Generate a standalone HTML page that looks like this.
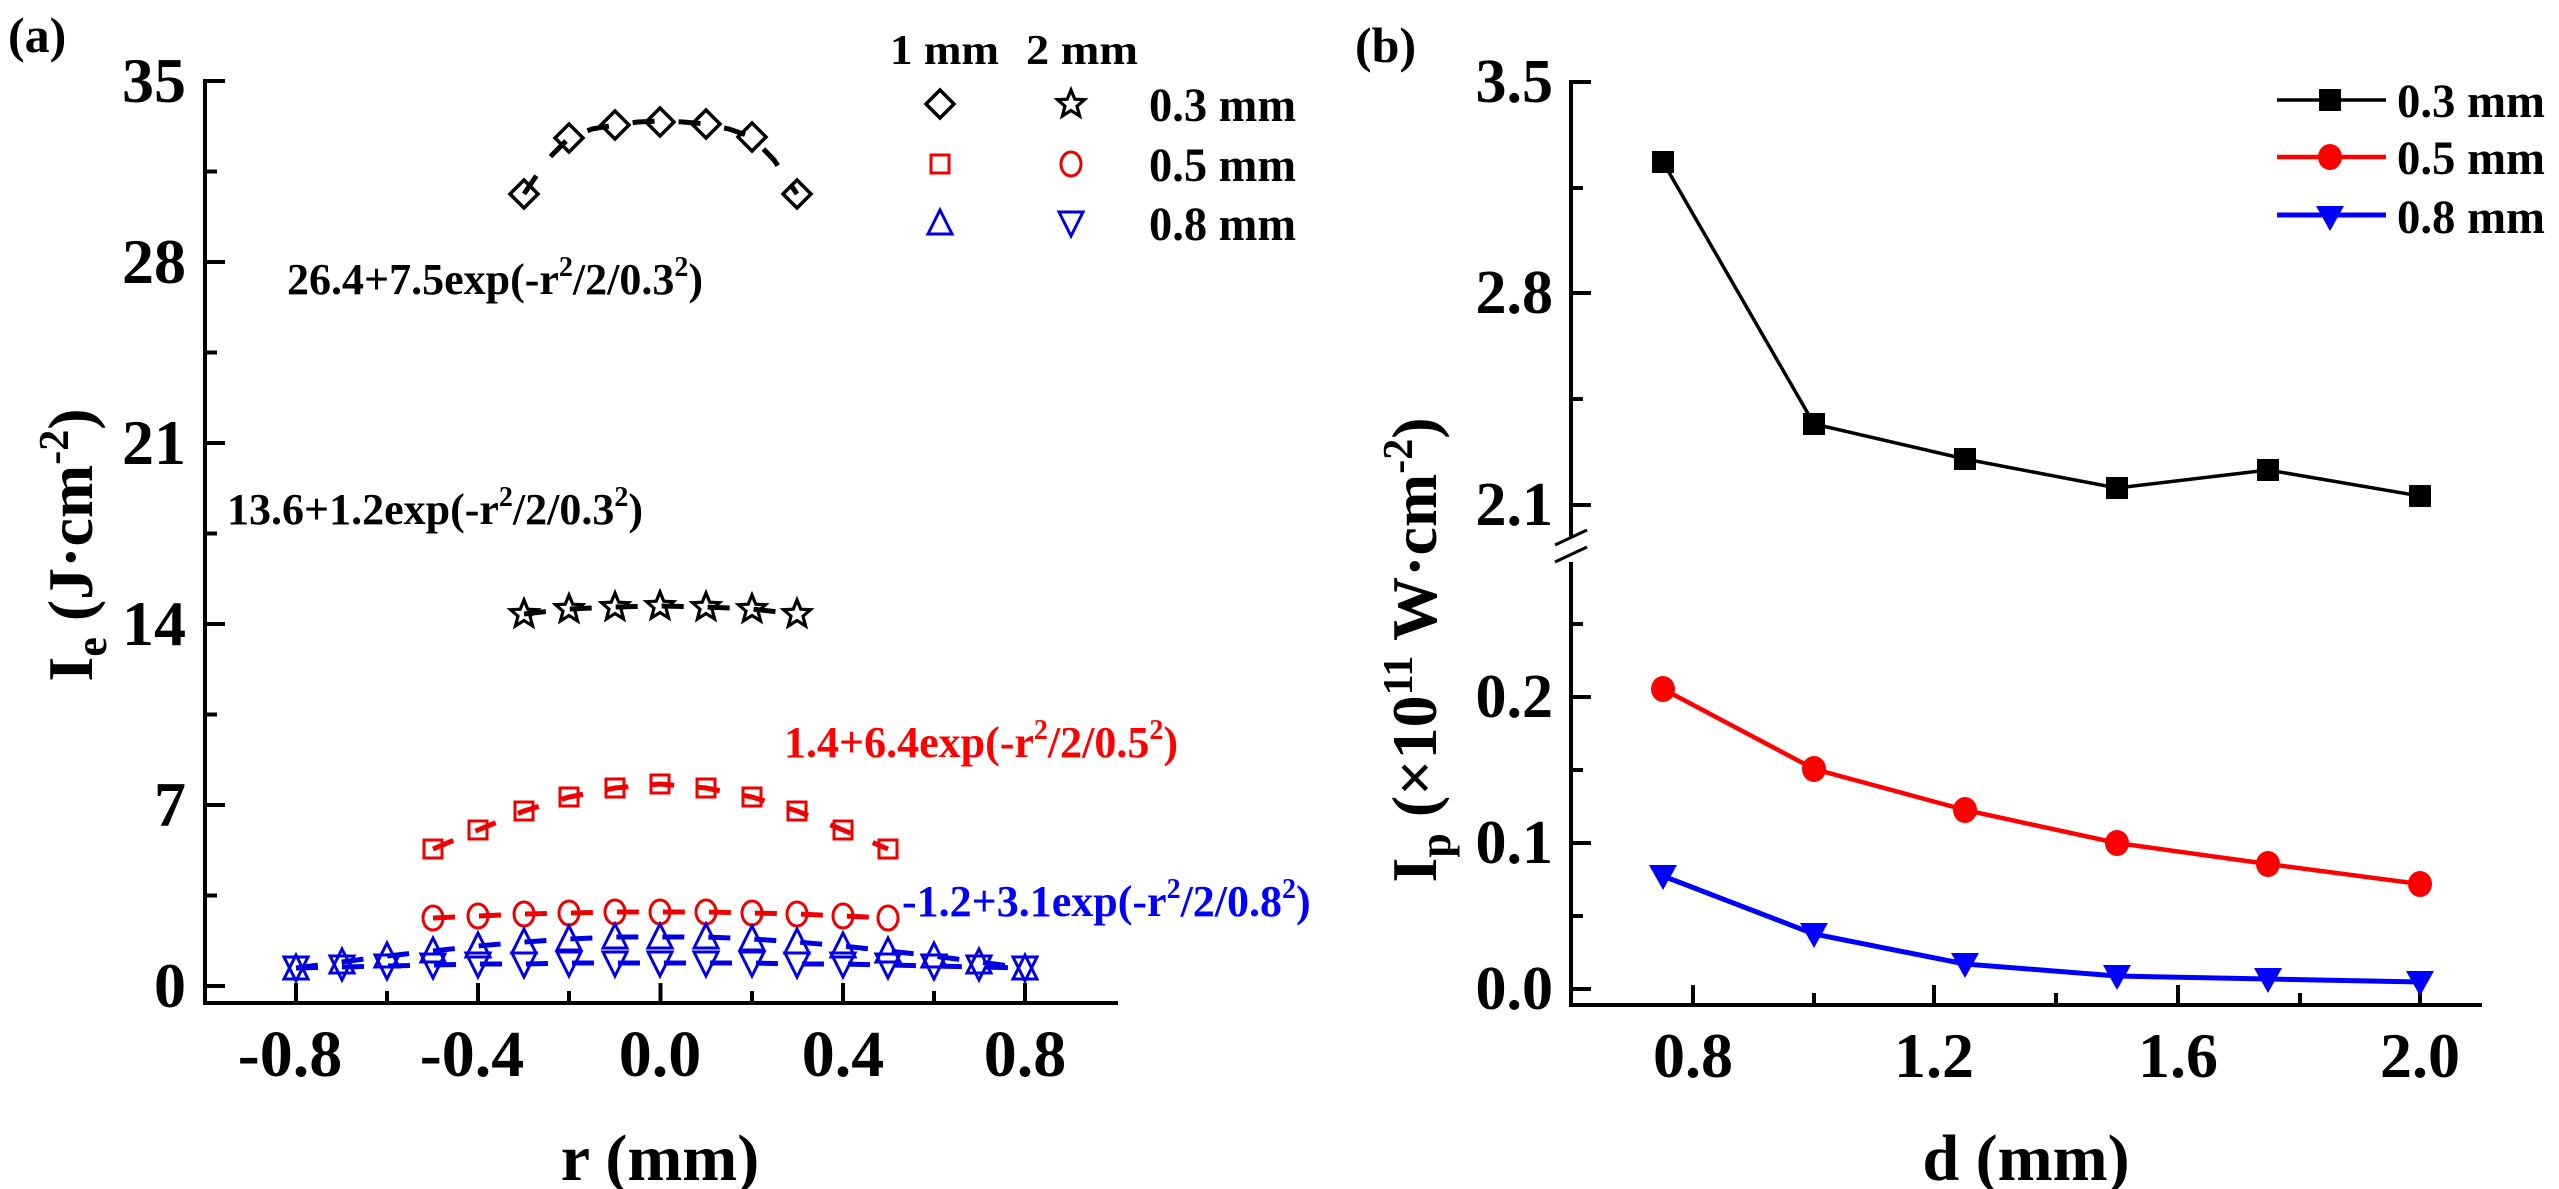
<!DOCTYPE html>
<html><head><meta charset="utf-8"><style>html,body{margin:0;padding:0;background:#fff}svg{display:block}text{font-family:"Liberation Serif",serif;font-weight:bold}</style></head><body>
<svg width="2559" height="1189" viewBox="0 0 2559 1189" xmlns="http://www.w3.org/2000/svg">
<defs>
<path id="dia" d="M0,-14 L14,0 L0,14 L-14,0 Z" fill="none" stroke="#000" stroke-width="3.5"/>
<path id="star" d="M0,-14 L3.8,-4.8 L13.5,-4.3 L6,2.2 L8.6,12 L0,6.5 L-8.6,12 L-6,2.2 L-13.5,-4.3 L-3.8,-4.8 Z" fill="none" stroke="#000" stroke-width="3.2"/>
<rect id="sq" x="-9" y="-9" width="18" height="18" fill="none" stroke="#e00" stroke-width="3"/>
<ellipse id="ci" rx="10" ry="12" fill="none" stroke="#e00" stroke-width="3"/>
<path id="tu" d="M0,-13 L12,11 L-12,11 Z" fill="none" stroke="#0000e0" stroke-width="3"/>
<path id="td" d="M0,13 L12,-11 L-12,-11 Z" fill="none" stroke="#0000e0" stroke-width="3"/>
<rect id="bsq" x="-11" y="-11" width="22" height="22" fill="#000"/>
<ellipse id="rci" rx="12" ry="13" fill="#f00"/>
<path id="btd" d="M0,14 L14,-11 L-14,-11 Z" fill="#0000ff"/>
</defs>

<!-- Panel a axes -->
<g stroke="#000" stroke-width="4" fill="none">
<line x1="205" y1="79" x2="205" y2="1005"/>
<line x1="203" y1="1003" x2="1118" y2="1003"/>
<line x1="205" y1="81" x2="225" y2="81"/><line x1="205" y1="262" x2="225" y2="262"/><line x1="205" y1="443" x2="225" y2="443"/><line x1="205" y1="624" x2="225" y2="624"/><line x1="205" y1="805" x2="225" y2="805"/><line x1="205" y1="986" x2="225" y2="986"/>
<line x1="205" y1="171.5" x2="217" y2="171.5"/><line x1="205" y1="352.5" x2="217" y2="352.5"/><line x1="205" y1="533.5" x2="217" y2="533.5"/><line x1="205" y1="714.5" x2="217" y2="714.5"/><line x1="205" y1="895.5" x2="217" y2="895.5"/>
<line x1="296" y1="1003" x2="296" y2="983"/><line x1="478" y1="1003" x2="478" y2="983"/><line x1="660.5" y1="1003" x2="660.5" y2="983"/><line x1="843" y1="1003" x2="843" y2="983"/><line x1="1025" y1="1003" x2="1025" y2="983"/>
<line x1="387" y1="1003" x2="387" y2="991"/><line x1="569" y1="1003" x2="569" y2="991"/><line x1="752" y1="1003" x2="752" y2="991"/><line x1="934" y1="1003" x2="934" y2="991"/>
</g>
<g font-size="64" text-anchor="end">
<text x="186" y="102">35</text><text x="186" y="283">28</text><text x="186" y="464">21</text><text x="186" y="645">14</text><text x="186" y="826">7</text><text x="186" y="1007">0</text>
</g>
<g font-size="66" text-anchor="middle">
<text x="290" y="1076">-0.8</text><text x="472" y="1076">-0.4</text><text x="660" y="1076">0.0</text><text x="843" y="1076">0.4</text><text x="1025" y="1076">0.8</text>
</g>
<text x="660" y="1180" font-size="66" text-anchor="middle">r (mm)</text>
<text x="8" y="52" font-size="50">(a)</text>
<text transform="translate(92,545) rotate(-90)" font-size="64" text-anchor="middle">I<tspan font-size="44" dy="14">e</tspan><tspan dy="-14"> (J·cm</tspan><tspan font-size="42" dy="-24">-2</tspan><tspan dy="24">)</tspan></text>

<!-- fit lines -->
<g fill="none" stroke-width="5" stroke-dasharray="22,24">
<polyline stroke="#000" points="524,194 547,160 569,138 592,129 615,125 638,122 660,121 683,122 706,124 729,129 752,137 774,160 797,194"/>
<polyline stroke="#000" points="524,614 569,609 615,607 660,606 706,607 752,609 797,614"/>
<polyline stroke="#e00" points="433,849 478,830 524,811 569,797 615,788 660,784 706,788 752,797 797,811 843,830 888,849"/>
<polyline stroke="#e00" points="433,918 478,916 524,914 569,913 615,912 660,912 706,912 752,913 797,914 843,916 888,918"/>
<polyline stroke="#0000e0" points="296,968 342,962 387,956 433,951 478,946 524,942 569,939 615,937 660,937 706,937 752,939 797,942 843,946 888,951 934,956 979,962 1025,968"/>
<polyline stroke="#0000e0" points="296,968 342,967 387,966 433,965 478,964 524,964 569,963 615,963 660,963 706,963 752,963 797,964 843,964 888,965 934,966 979,967 1025,968"/>
</g>
<!-- markers a -->
<use href="#dia" x="524" y="194"/><use href="#dia" x="569" y="138"/><use href="#dia" x="615" y="125"/><use href="#dia" x="660" y="122"/><use href="#dia" x="706" y="124"/><use href="#dia" x="752" y="137"/><use href="#dia" x="797" y="194"/>
<use href="#star" x="524" y="614"/><use href="#star" x="569" y="609"/><use href="#star" x="615" y="607"/><use href="#star" x="660" y="606"/><use href="#star" x="706" y="607"/><use href="#star" x="752" y="609"/><use href="#star" x="797" y="614"/>
<use href="#sq" x="433" y="849"/><use href="#sq" x="478" y="830"/><use href="#sq" x="524" y="811"/><use href="#sq" x="569" y="797"/><use href="#sq" x="615" y="788"/><use href="#sq" x="660" y="784"/><use href="#sq" x="706" y="788"/><use href="#sq" x="752" y="797"/><use href="#sq" x="797" y="811"/><use href="#sq" x="843" y="830"/><use href="#sq" x="888" y="849"/>
<use href="#ci" x="433" y="918"/><use href="#ci" x="478" y="916"/><use href="#ci" x="524" y="914"/><use href="#ci" x="569" y="913"/><use href="#ci" x="615" y="912"/><use href="#ci" x="660" y="912"/><use href="#ci" x="706" y="912"/><use href="#ci" x="752" y="913"/><use href="#ci" x="797" y="914"/><use href="#ci" x="843" y="916"/><use href="#ci" x="888" y="918"/>
<use href="#tu" x="296" y="968"/><use href="#tu" x="342" y="962"/><use href="#tu" x="387" y="956"/><use href="#tu" x="433" y="951"/><use href="#tu" x="478" y="946"/><use href="#tu" x="524" y="942"/><use href="#tu" x="569" y="939"/><use href="#tu" x="615" y="937"/><use href="#tu" x="660" y="937"/><use href="#tu" x="706" y="937"/><use href="#tu" x="752" y="939"/><use href="#tu" x="797" y="942"/><use href="#tu" x="843" y="946"/><use href="#tu" x="888" y="951"/><use href="#tu" x="934" y="956"/><use href="#tu" x="979" y="962"/><use href="#tu" x="1025" y="968"/>
<use href="#td" x="296" y="968"/><use href="#td" x="342" y="967"/><use href="#td" x="387" y="966"/><use href="#td" x="433" y="965"/><use href="#td" x="478" y="964"/><use href="#td" x="524" y="964"/><use href="#td" x="569" y="963"/><use href="#td" x="615" y="963"/><use href="#td" x="660" y="963"/><use href="#td" x="706" y="963"/><use href="#td" x="752" y="963"/><use href="#td" x="797" y="964"/><use href="#td" x="843" y="964"/><use href="#td" x="888" y="965"/><use href="#td" x="934" y="966"/><use href="#td" x="979" y="967"/><use href="#td" x="1025" y="968"/>

<!-- formulas -->
<g font-size="44">
<text x="287" y="294">26.4+7.5exp(-r<tspan font-size="28" dy="-18">2</tspan><tspan dy="18">/2/0.3</tspan><tspan font-size="28" dy="-18">2</tspan><tspan dy="18">)</tspan></text>
<text x="227" y="524">13.6+1.2exp(-r<tspan font-size="28" dy="-18">2</tspan><tspan dy="18">/2/0.3</tspan><tspan font-size="28" dy="-18">2</tspan><tspan dy="18">)</tspan></text>
<text x="784" y="757" fill="#f00">1.4+6.4exp(-r<tspan font-size="28" dy="-18">2</tspan><tspan dy="18">/2/0.5</tspan><tspan font-size="28" dy="-18">2</tspan><tspan dy="18">)</tspan></text>
<text x="902" y="916" fill="#00f">-1.2+3.1exp(-r<tspan font-size="28" dy="-18">2</tspan><tspan dy="18">/2/0.8</tspan><tspan font-size="28" dy="-18">2</tspan><tspan dy="18">)</tspan></text>
</g>
<!-- legend a -->
<g font-size="42"><text x="890" y="64" textLength="109" lengthAdjust="spacingAndGlyphs">1 mm</text><text x="1026" y="64" textLength="112" lengthAdjust="spacingAndGlyphs">2 mm</text></g>
<use href="#dia" x="940" y="104"/><use href="#star" x="1071" y="104"/>
<use href="#sq" x="940" y="164"/><use href="#ci" x="1071" y="164"/>
<use href="#tu" x="940" y="223"/><use href="#td" x="1071" y="223"/>
<g font-size="48"><text x="1149" y="121" textLength="147" lengthAdjust="spacingAndGlyphs">0.3 mm</text><text x="1149" y="181" textLength="147" lengthAdjust="spacingAndGlyphs">0.5 mm</text><text x="1149" y="240" textLength="147" lengthAdjust="spacingAndGlyphs">0.8 mm</text></g>

<!-- Panel b -->
<g stroke="#000" stroke-width="4" fill="none">
<line x1="1571" y1="80" x2="1571" y2="538"/>
<line x1="1571" y1="562" x2="1571" y2="1005"/>
<line x1="1569" y1="1005" x2="2482" y2="1005"/>
<line x1="1571" y1="82" x2="1591" y2="82"/><line x1="1571" y1="293" x2="1591" y2="293"/><line x1="1571" y1="505" x2="1591" y2="505"/>
<line x1="1571" y1="188" x2="1583" y2="188"/><line x1="1571" y1="399" x2="1583" y2="399"/>
<line x1="1571" y1="697" x2="1591" y2="697"/><line x1="1571" y1="843" x2="1591" y2="843"/><line x1="1571" y1="989" x2="1591" y2="989"/>
<line x1="1571" y1="624" x2="1583" y2="624"/><line x1="1571" y1="770" x2="1583" y2="770"/><line x1="1571" y1="916" x2="1583" y2="916"/>
<line x1="1693" y1="1005" x2="1693" y2="985"/><line x1="1934" y1="1005" x2="1934" y2="985"/><line x1="2178" y1="1005" x2="2178" y2="985"/><line x1="2420" y1="1005" x2="2420" y2="985"/>
<line x1="1814" y1="1005" x2="1814" y2="993"/><line x1="2056" y1="1005" x2="2056" y2="993"/><line x1="2300" y1="1005" x2="2300" y2="993"/>
<line x1="1555" y1="545" x2="1587" y2="530" stroke-width="3"/><line x1="1555" y1="562" x2="1587" y2="547" stroke-width="3"/>
</g>
<g font-size="62" text-anchor="end">
<text x="1553" y="102">3.5</text><text x="1553" y="313">2.8</text><text x="1553" y="525">2.1</text>
<text x="1553" y="717">0.2</text><text x="1553" y="863">0.1</text><text x="1553" y="1009">0.0</text>
</g>
<g font-size="64" text-anchor="middle">
<text x="1693" y="1077">0.8</text><text x="1934" y="1077">1.2</text><text x="2178" y="1077">1.6</text><text x="2420" y="1077">2.0</text>
</g>
<text x="2026" y="1180" font-size="66" text-anchor="middle">d (mm)</text>
<text x="1355" y="62" font-size="50">(b)</text>
<text transform="translate(1436,650) rotate(-90)" font-size="64" text-anchor="middle">I<tspan font-size="44" dy="14">p</tspan><tspan dy="-14"> (×10</tspan><tspan font-size="42" dy="-24">11</tspan><tspan dy="24"> W·cm</tspan><tspan font-size="42" dy="-24">-2</tspan><tspan dy="24">)</tspan></text>

<polyline fill="none" stroke="#000" stroke-width="3.5" points="1663,162 1814,424 1965,459 2117,488 2268,470 2420,496"/>
<polyline fill="none" stroke="#f00" stroke-width="4.5" points="1663,689 1814,769 1965,810 2117,843 2268,864 2420,884"/>
<polyline fill="none" stroke="#00f" stroke-width="5" points="1663,876 1814,934 1965,964 2117,976 2268,979 2420,982"/>
<use href="#bsq" x="1663" y="162"/><use href="#bsq" x="1814" y="424"/><use href="#bsq" x="1965" y="459"/><use href="#bsq" x="2117" y="488"/><use href="#bsq" x="2268" y="470"/><use href="#bsq" x="2420" y="496"/>
<use href="#rci" x="1663" y="689"/><use href="#rci" x="1814" y="769"/><use href="#rci" x="1965" y="810"/><use href="#rci" x="2117" y="843"/><use href="#rci" x="2268" y="864"/><use href="#rci" x="2420" y="884"/>
<use href="#btd" x="1663" y="876"/><use href="#btd" x="1814" y="934"/><use href="#btd" x="1965" y="964"/><use href="#btd" x="2117" y="976"/><use href="#btd" x="2268" y="979"/><use href="#btd" x="2420" y="982"/>

<!-- legend b -->
<line x1="2277" y1="100" x2="2386" y2="100" stroke="#000" stroke-width="3.5"/><use href="#bsq" x="2330" y="100"/>
<line x1="2277" y1="157" x2="2386" y2="157" stroke="#f00" stroke-width="4.5"/><use href="#rci" x="2330" y="157"/>
<line x1="2277" y1="215" x2="2386" y2="215" stroke="#00f" stroke-width="5"/><use href="#btd" x="2330" y="217"/>
<g font-size="48"><text x="2397" y="117" textLength="148" lengthAdjust="spacingAndGlyphs">0.3 mm</text><text x="2397" y="174" textLength="148" lengthAdjust="spacingAndGlyphs">0.5 mm</text><text x="2397" y="233" textLength="148" lengthAdjust="spacingAndGlyphs">0.8 mm</text></g>
</svg>
</body></html>
